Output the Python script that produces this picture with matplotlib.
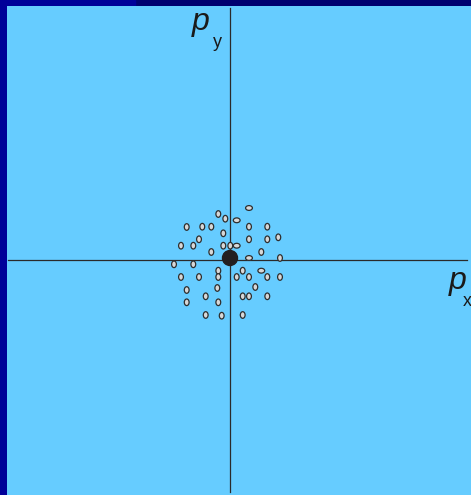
import matplotlib
matplotlib.use("Agg")
import matplotlib.pyplot as plt
from matplotlib.patches import Ellipse, Circle, Rectangle

# momentum-space points (px, py), origin where the axes cross
tall_px = [-11.7, -4.7, -43.3, -27.7, -18.7, 19, 37.3, -6.7, -31, 19, 37.3, 48.3,
           -49, -36.7, -6.7, 0.3, -18.7, 31.3, 50, -56, -36.7, -11.7, 12.7,
           -49, -31, -11.7, 6.7, 19, 37.3, 50, 25.3, -43.3, -12.7, -24.3, 12.7,
           19, 37.3, -43.3, -11.7, -24.3, -8.3, 12.7]
tall_py = [46, 41.3, 33, 33.3, 33.3, 33.3, 33.3, 26.7, 20.7, 20.7, 20.7, 22.7,
           14.3, 14.3, 14.3, 14.3, 8, 8, 2, -4.3, -4.3, -10.7, -10.7,
           -17, -17, -17, -17, -17, -17, -17, -27, -30, -28, -36.3, -36.3,
           -36.3, -36.3, -42.3, -42.3, -55, -55.7, -55]
wide_px = [19, 6.7, 6.7, 19, 31.3]
wide_py = [52, 39.7, 14.3, 2, -10.7]
center = (0, 2)

fig = plt.figure(figsize=(4.71, 4.95), dpi=100)
fig.patch.set_facecolor("#000070")
# lighter blue frame on the left and top-left
fig.add_artist(Rectangle((0, 0), 7 / 471, 1, transform=fig.transFigure, color="#000099", zorder=0))
fig.add_artist(Rectangle((0, 489 / 495), 135 / 471, 6 / 495, transform=fig.transFigure, color="#000099", zorder=0))

ax = fig.add_axes([7 / 471, 0, 464 / 471, 489 / 495])
ax.set_facecolor("#66CCFF")
ax.set_xlim(-223, 241)
ax.set_ylim(-235, 254)
for s in ax.spines.values():
    s.set_visible(False)
ax.set_xticks([])
ax.set_yticks([])

# axes lines
ax.plot([-222, 237], [0, 0], color="#2a2a2a", lw=0.9)
ax.plot([0, 0], [-232, 252], color="#2a2a2a", lw=0.9)

for x, y in zip(tall_px, tall_py):
    ax.add_patch(Ellipse((x, y), 4.8, 6.6, facecolor="#d8d8d8", edgecolor="#2e2e2e", lw=0.9, zorder=3))
for x, y in zip(wide_px, wide_py):
    ax.add_patch(Ellipse((x, y), 6.8, 4.8, facecolor="#d8d8d8", edgecolor="#2e2e2e", lw=0.9, zorder=3))
ax.add_patch(Circle(center, 7.5, color="#231f20", zorder=4))

# axis labels
ax.text(-38, 230, "p", fontsize=23, style="italic", family="Liberation Sans", color="#1a1a1a")
ax.text(-17, 213, "y", fontsize=13, family="Liberation Sans", color="#1a1a1a")
ax.text(219, -29, "p", fontsize=23, style="italic", family="Liberation Sans", color="#1a1a1a")
ax.text(233, -46, "x", fontsize=13, family="Liberation Sans", color="#1a1a1a", clip_on=False)

plt.savefig("out.png", dpi=100, facecolor=fig.get_facecolor())
